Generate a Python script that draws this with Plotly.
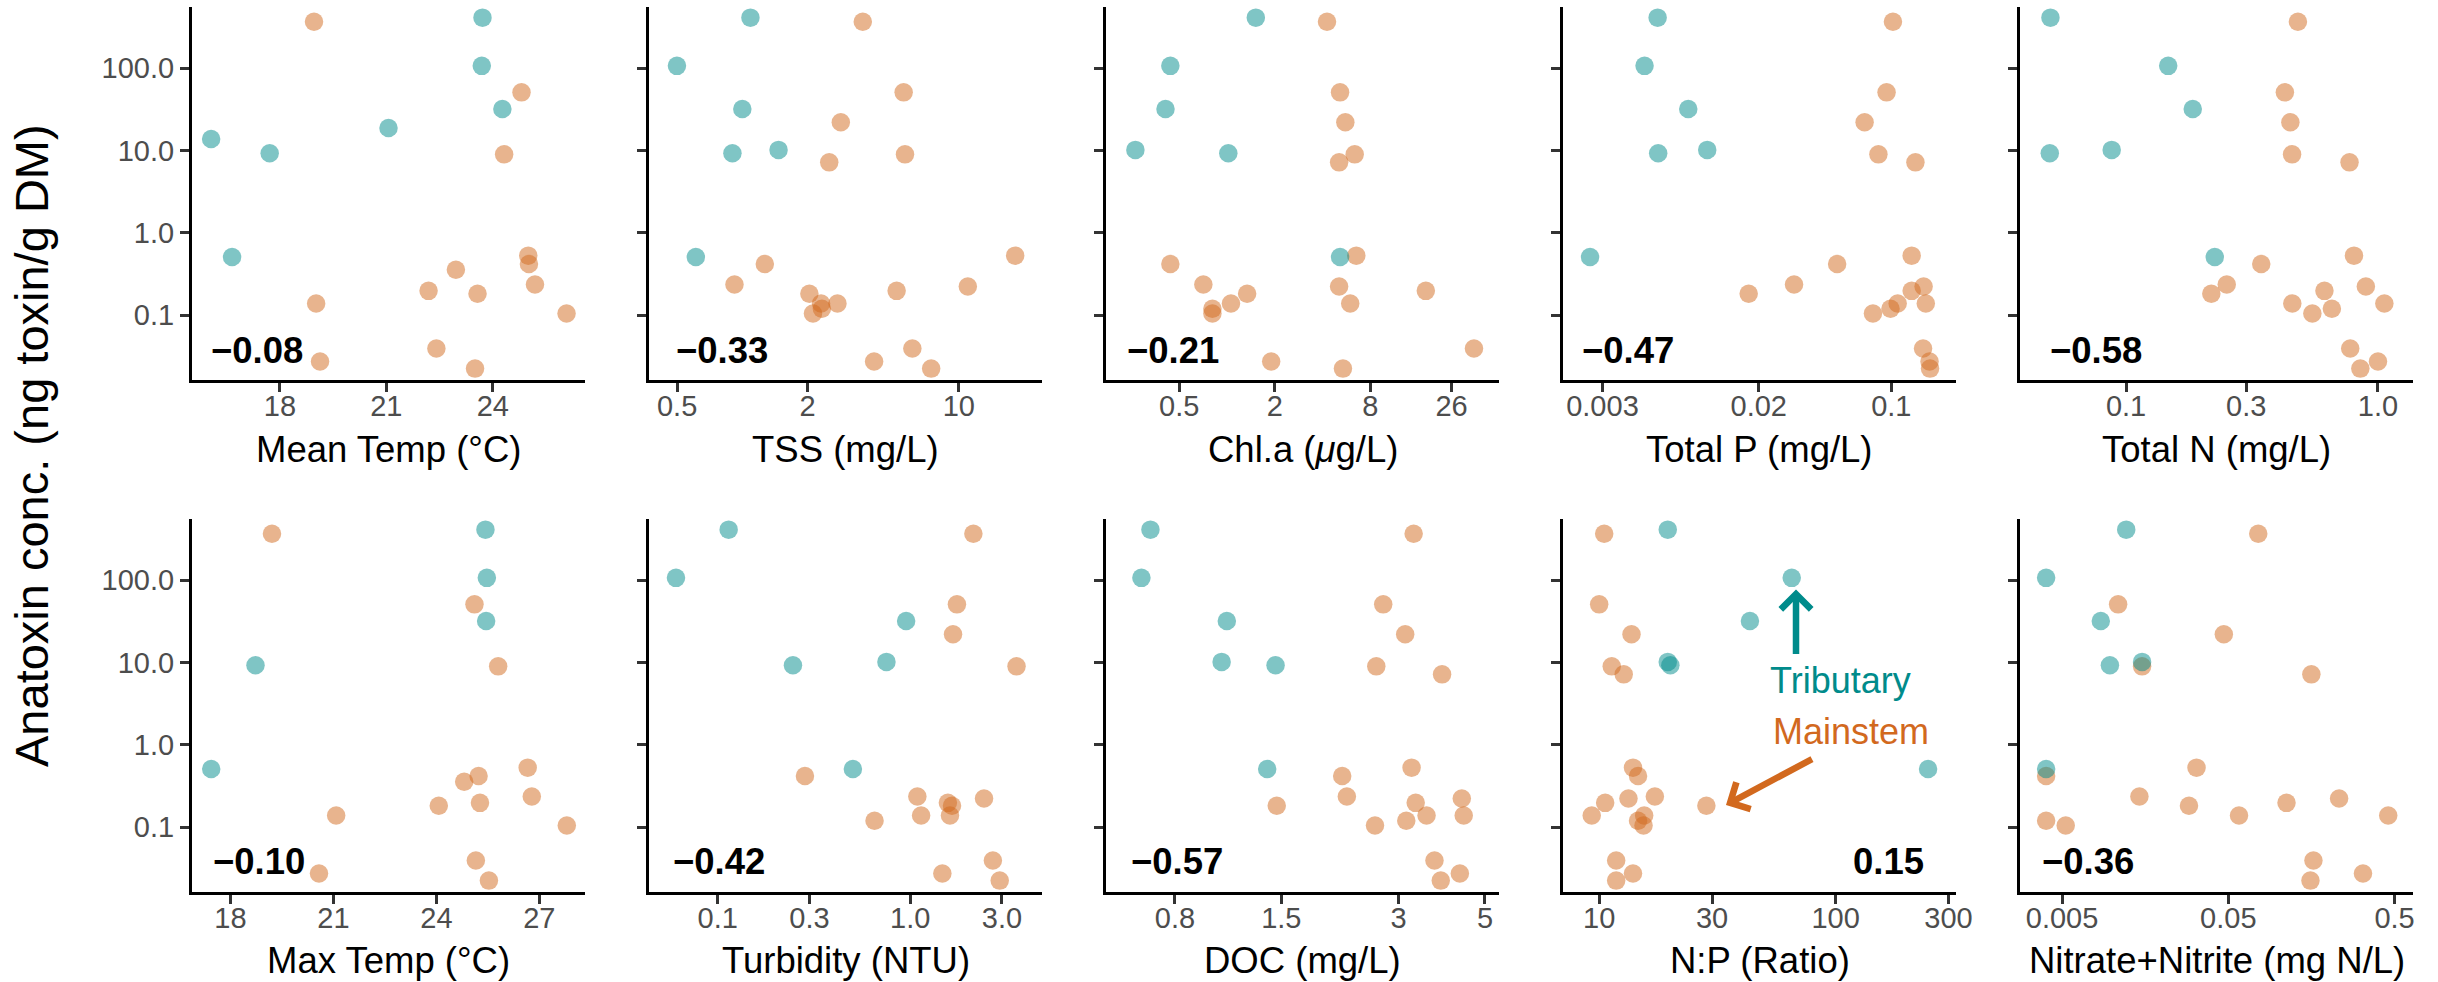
import plotly.graph_objects as go

FIG_W, FIG_H = 2438, 982
N = None

# ---------------- data ----------------
# Anatoxin concentration (ng toxin/g DM) of each sample
trib_toxin = [412, 107, 32, 18.8, 13.8, 10.2, 9.3, 0.51]
main_toxin = [367, 51, 22.1, 9.0, 7.2, 0.53, 0.42, 0.357, 0.237, 0.224, 0.198,
              0.183, 0.139, 0.139, 0.120, 0.105, 0.0395, 0.0275, 0.0225]

# Predictor values for each sample (None = not measured)
mean_temp_trib = [23.71, 23.69, 24.27, 21.06, 16.06, N, 17.71, 16.65]
mean_temp_main = [18.96, 24.81, N, 24.32, N, 25.0, 25.02, 22.96, 25.19, N, 22.19,
                  23.57, 19.02, N, N, 26.08, 22.41, 19.13, 23.50]

tss_trib = [1.09, 0.499, 1.0, N, N, 1.47, 0.90, 0.61]
tss_main = [3.6, 5.56, 2.85, 5.64, 2.52, 18.2, 1.27, N, 0.92, 11.0, 5.16,
            2.04, 2.75, 2.31, 2.33, 2.12, 6.1, 4.06, 7.45]

chla_trib = [1.52, 0.44, 0.41, N, N, 0.265, 1.02, 5.16]
chla_main = [4.27, 5.16, 5.57, 6.38, 5.09, 6.53, 0.44, N, 0.71, 5.09, 17.9,
             1.34, 1.06, 5.98, 0.81, 0.81, 36, 1.9, 5.38]

tp_trib = [0.00586, 0.0050, 0.0085, N, N, 0.0107, 0.0059, 0.00258]
tp_main = [0.102, 0.0944, 0.0723, 0.0855, 0.134, 0.128, 0.0518, N, 0.0307, 0.148, 0.128,
           0.0177, 0.108, 0.152, 0.099, 0.080, 0.147, 0.159, 0.16]

tn_trib = [0.0501, 0.147, 0.184, N, N, 0.0877, 0.0498, 0.225]
tn_main = [0.481, 0.427, 0.449, 0.456, 0.771, 0.803, 0.344, N, 0.251, 0.895, 0.613,
           0.218, 0.457, 1.06, 0.656, 0.549, 0.776, 1.0, 0.851]

max_temp_trib = [25.43, 25.47, 25.45, N, N, N, 18.73, 17.44]
max_temp_main = [19.21, 25.11, N, 25.80, N, 26.66, 25.23, 24.81, 26.78, N, 25.27,
                 24.07, 21.08, N, N, 27.80, 25.15, 20.58, 25.53]

turb_trib = [0.114, 0.0607, 0.953, N, N, 0.753, 0.246, 0.504]
turb_main = [2.13, 1.75, 1.67, 3.57, N, N, 0.284, N, 1.09, 2.42, 1.57,
             1.65, 1.14, 1.61, 0.653, N, 2.69, 1.47, 2.92]

doc_trib = [0.692, 0.656, 1.087, N, N, 1.054, 1.45, 1.38]
doc_main = [3.28, 2.74, 3.12, 2.63, 3.88, 3.24, 2.15, N, 2.21, 4.36, 3.32,
            1.46, 3.54, 4.41, 3.14, 2.61, 3.71, 4.31, 3.85]

np_trib = [19.5, 65.2, 43.4, N, N, 19.5, 20.0, 246]
np_main = [10.5, 10.0, 13.7, 11.3, 12.7, 13.9, 14.6, N, 17.2, 13.3, 10.6,
           28.4, 9.3, 15.5, 14.6, 15.4, 11.8, 13.9, 11.8]

nox_trib = [0.01216, 0.00401, 0.00855, N, N, 0.01515, 0.0097, 0.00401]
nox_main = [0.0757, 0.01087, 0.047, 0.01515, 0.158, 0.0322, 0.00401, N, 0.0146, 0.232, 0.112,
            0.029, 0.058, 0.458, 0.00401, 0.00526, 0.1626, 0.323, 0.156]

titles = ["Mean Temp (°C)", "TSS (mg/L)", "Chl.a (<i>μ</i>g/L)", "Total P (mg/L)", "Total N (mg/L)",
          "Max Temp (°C)", "Turbidity (NTU)", "DOC (mg/L)", "N:P (Ratio)", "Nitrate+Nitrite (mg N/L)"]
correlations = ["−0.08", "−0.33", "−0.21", "−0.47", "−0.58",
                "−0.10", "−0.42", "−0.57", "0.15", "−0.36"]

x_ticks = [[18, 21, 24], [0.5, 2, 10], [0.5, 2, 8, 26], [0.003, 0.02, 0.1], [0.1, 0.3, 1.0],
           [18, 21, 24, 27], [0.1, 0.3, 1.0, 3.0], [0.8, 1.5, 3, 5], [10, 30, 100, 300], [0.005, 0.05, 0.5]]
x_ticktext = [["18", "21", "24"], ["0.5", "2", "10"], ["0.5", "2", "8", "26"], ["0.003", "0.02", "0.1"],
              ["0.1", "0.3", "1.0"], ["18", "21", "24", "27"], ["0.1", "0.3", "1.0", "3.0"],
              ["0.8", "1.5", "3", "5"], ["10", "30", "100", "300"], ["0.005", "0.05", "0.5"]]
y_ticks = [0.1, 1, 10, 100]
y_ticktext = ["0.1", "1.0", "10.0", "100.0"]

# ---------------- layout / style ----------------
TRIB = "#008B8B"
MAIN = "#D2691E"
FONT = "Liberation Sans"

x_types = ["linear", "log", "log", "log", "log", "linear", "log", "log", "log", "log"]
x_ranges = [[15.52, 26.6], [-0.431, 1.384], [-0.762, 1.714], [-2.731, -0.659], [-1.421, 0.139],
            [16.88, 28.33], [-1.357, 0.685], [-0.274, 0.735], [0.847, 2.509], [-2.554, -0.190]]
y_range = [-1.786, 2.744]

col_left = [192, 649, 1106, 1563, 2020]
panel_w = 393
rows_px = [(7, 380), (519, 892)]
corr_left = [209, 674, 1125, 1580, 2048, 211, 671, 1129, None, 2040]
corr_right = [None] * 8 + [1926, None]
corr_y = [351, 861]
xtitle_y = [449.5, 960]

series = [(mean_temp_trib, mean_temp_main), (tss_trib, tss_main), (chla_trib, chla_main),
          (tp_trib, tp_main), (tn_trib, tn_main), (max_temp_trib, max_temp_main),
          (turb_trib, turb_main), (doc_trib, doc_main), (np_trib, np_main), (nox_trib, nox_main)]


def fx(px):
    return px / FIG_W


def fy(py):
    return 1 - py / FIG_H


fig = go.Figure()
layout = dict(
    width=FIG_W, height=FIG_H,
    margin=dict(l=0, r=0, t=0, b=0),
    paper_bgcolor="white", plot_bgcolor="white",
    font=dict(family=FONT, color="black"),
    showlegend=False,
)
annotations = []

axis_common = dict(showgrid=False, zeroline=False, showline=True, linecolor="black", linewidth=3,
                   ticks="outside", ticklen=9, tickwidth=2.6, tickcolor="#333333",
                   tickfont=dict(family=FONT, size=29, color="#4D4D4D"), automargin=False)

for i in range(10):
    r, c = divmod(i, 5)
    suf = "" if i == 0 else str(i + 1)
    xt, xm = series[i]
    for xs, ys, col in [(xm, main_toxin, MAIN), (xt, trib_toxin, TRIB)]:
        fig.add_trace(go.Scatter(
            x=xs, y=ys, mode="markers", xaxis="x" + suf, yaxis="y" + suf,
            marker=dict(color=col, size=18.5, opacity=0.5, line=dict(width=0)),
            hoverinfo="skip"))
    top, bot = rows_px[r]
    left = col_left[c]
    layout["xaxis" + suf] = dict(
        axis_common, domain=[fx(left), fx(left + panel_w)], anchor="y" + suf,
        type=x_types[i], range=x_ranges[i], tickmode="array",
        tickvals=x_ticks[i], ticktext=x_ticktext[i], ticklabelstandoff=-11)
    layout["yaxis" + suf] = dict(
        axis_common, domain=[fy(bot), fy(top)], anchor="x" + suf,
        type="log", range=y_range, tickmode="array",
        tickvals=y_ticks, ticktext=y_ticktext, showticklabels=(c == 0))
    # x axis title
    annotations.append(dict(
        text=titles[i], xref="paper", yref="paper",
        x=fx(left + panel_w / 2), y=fy(xtitle_y[r]), xanchor="center", yanchor="middle",
        showarrow=False, font=dict(family=FONT, size=36.5, color="black")))
    # correlation label
    if corr_left[i] is not None:
        ax_x, anc = corr_left[i], "left"
    else:
        ax_x, anc = corr_right[i], "right"
    annotations.append(dict(
        text="<b>" + correlations[i] + "</b>", xref="paper", yref="paper",
        x=fx(ax_x), y=fy(corr_y[r]), xanchor=anc, yanchor="middle",
        showarrow=False, font=dict(family=FONT, size=36.5, color="black")))

# y axis title
annotations.append(dict(
    text="Anatoxin conc. (ng toxin/g DM)", xref="paper", yref="paper",
    x=fx(31), y=fy(446), xanchor="center", yanchor="middle", textangle=-90,
    showarrow=False, font=dict(family=FONT, size=47, color="black")))

# group labels and arrows in the N:P panel
annotations.append(dict(
    text="Tributary", xref="paper", yref="paper", x=fx(1840.7), y=fy(680.5),
    xanchor="center", yanchor="middle", showarrow=False,
    font=dict(family=FONT, size=36, color=TRIB)))
annotations.append(dict(
    text="Mainstem", xref="paper", yref="paper", x=fx(1850.5), y=fy(731.5),
    xanchor="center", yanchor="middle", showarrow=False,
    font=dict(family=FONT, size=36, color=MAIN)))
annotations.append(dict(
    text="", xref="paper", yref="paper", x=fx(1796), y=fy(589.5),
    ax=0, ay=66, axref="pixel", ayref="pixel", showarrow=True,
    arrowhead=4, arrowsize=0.9, arrowwidth=6.5, arrowcolor=TRIB, standoff=0))
annotations.append(dict(
    text="", xref="paper", yref="paper", x=fx(1726), y=fy(805),
    ax=87.5, ay=-46.7, axref="pixel", ayref="pixel", showarrow=True,
    arrowhead=4, arrowsize=0.9, arrowwidth=6.5, arrowcolor=MAIN, standoff=0))

layout["annotations"] = annotations
fig.update_layout(**layout)
fig.write_html("out.html")
